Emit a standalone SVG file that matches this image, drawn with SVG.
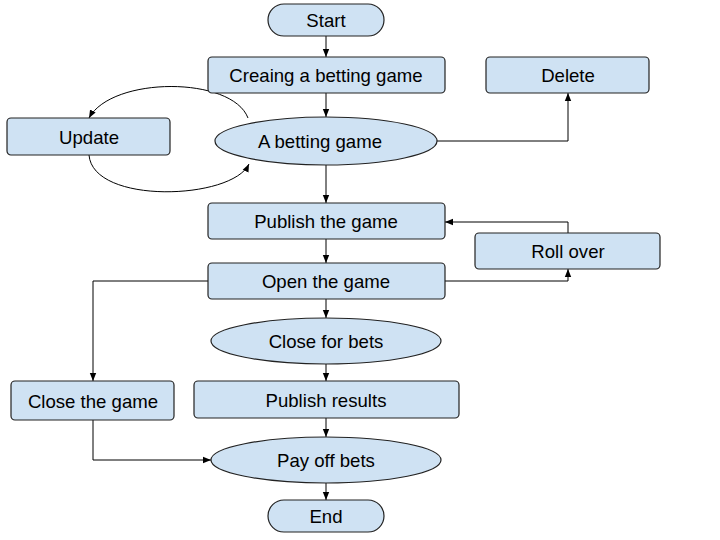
<svg xmlns="http://www.w3.org/2000/svg" width="720" height="540" viewBox="0 0 720 540">
<style>
.n{fill:#cfe2f3;stroke:#222;stroke-width:1.2}
.t{font-family:"Liberation Sans",Arial,sans-serif;font-size:18.6px;fill:#000;text-anchor:middle;dominant-baseline:central}
.c{fill:none;stroke:#000;stroke-width:1;marker-end:url(#a)}
</style>
<defs>
<marker id="a" viewBox="0 0 10 10" refX="10" refY="5" markerWidth="8" markerHeight="8" markerUnits="userSpaceOnUse" orient="auto">
<path d="M0,1 L10,5 L0,9 z" fill="#000"/>
</marker>
</defs>
<rect width="720" height="540" fill="#fff"/>
<g id="connectors">
<path class="c" d="M326,36 V57"/>
<path class="c" d="M326,93 V117"/>
<path class="c" d="M326,165 V203"/>
<path class="c" d="M326,239 V263"/>
<path class="c" d="M326,299 V318"/>
<path class="c" d="M326,364 V381"/>
<path class="c" d="M326,418 V437"/>
<path class="c" d="M326,483 V500"/>
<path class="c" d="M437,141 H568 V93"/>
<path class="c" d="M568,233 V222 H445"/>
<path class="c" d="M445,281 H568 V269"/>
<path class="c" d="M208,281 H93 V381"/>
<path class="c" d="M93,420 V460 H211"/>
<path class="c" d="M248,118 C232,76 112,76 89,118"/>
<path class="c" d="M89,155 C93,205 232,200 249,164"/>
</g>
<g id="start"><rect class="n" x="268" y="4" width="116" height="32" rx="16"/><text class="t" x="326" y="20">Start</text></g>
<g id="create"><rect class="n" x="208" y="57" width="237" height="36" rx="4"/><text class="t" x="326" y="75">Creaing a betting game</text></g>
<g id="delete"><rect class="n" x="486" y="57" width="163" height="36" rx="4"/><text class="t" x="568" y="75">Delete</text></g>
<g id="update"><rect class="n" x="7" y="118" width="163" height="37" rx="4"/><text class="t" x="89" y="137">Update</text></g>
<g id="game"><ellipse class="n" cx="326" cy="141" rx="111" ry="24"/><text class="t" x="320" y="141">A betting game</text></g>
<g id="publish"><rect class="n" x="208" y="203" width="237" height="36" rx="4"/><text class="t" x="326" y="221">Publish the game</text></g>
<g id="rollover"><rect class="n" x="475" y="233" width="185" height="36" rx="4"/><text class="t" x="568" y="251">Roll over</text></g>
<g id="open"><rect class="n" x="208" y="263" width="237" height="36" rx="4"/><text class="t" x="326" y="281">Open the game</text></g>
<g id="closebets"><ellipse class="n" cx="326" cy="341" rx="115" ry="23"/><text class="t" x="326" y="341">Close for bets</text></g>
<g id="closegame"><rect class="n" x="11" y="381" width="163" height="39" rx="4"/><text class="t" x="93" y="401">Close the game</text></g>
<g id="results"><rect class="n" x="194" y="381" width="265" height="37" rx="4"/><text class="t" x="326" y="400">Publish results</text></g>
<g id="payoff"><ellipse class="n" cx="326" cy="460" rx="115" ry="23"/><text class="t" x="326" y="460">Pay off bets</text></g>
<g id="end"><rect class="n" x="268" y="500" width="116" height="32" rx="16"/><text class="t" x="326" y="516">End</text></g>
</svg>
